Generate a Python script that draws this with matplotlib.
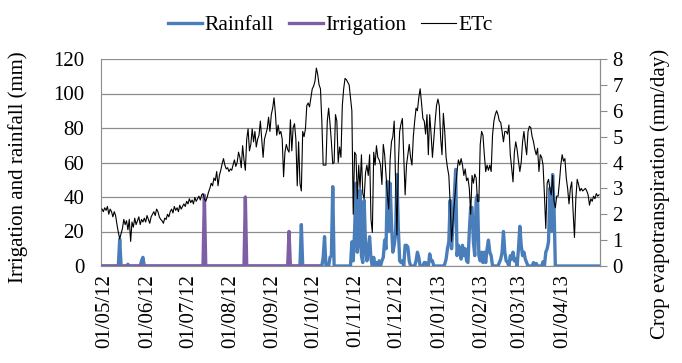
import numpy as np
import matplotlib
matplotlib.use("Agg")
import matplotlib.pyplot as plt
import matplotlib.transforms as mtransforms
import datetime as dt

plt.rcParams['font.family'] = ['Liberation Serif', 'DejaVu Serif']

start_date = dt.date(2012, 5, 1)
tick_labels = ['01/05/12', '01/06/12', '01/07/12', '01/08/12', '01/09/12', '01/10/12',
               '01/11/12', '01/12/12', '01/01/13', '01/02/13', '01/03/13', '01/04/13']

# Daily crop evapotranspiration (mm/day), 01/05/12 .. 30/04/13
etc_may = [2.2, 2.1, 2.25, 2.15, 2.3, 2.0, 2.2, 2.1, 1.9, 2.1, 1.95,
           1.6, 1.3, 1.05, 1.25, 1.45, 1.8, 1.6, 1.75, 1.4, 1.8, 0.95,
           1.7, 1.5, 1.85, 1.6, 1.75, 1.9, 1.6, 1.8, 1.7]
etc_jun = [1.85, 1.7, 1.95, 1.8, 1.65, 1.9, 2.0, 2.1, 1.95, 2.2,
           2.1, 1.9, 1.8, 1.75, 1.65, 1.85, 1.8, 2.0, 1.9, 2.1,
           2.2, 2.05, 2.3, 2.15, 2.25, 2.1, 2.35, 2.2, 2.3, 2.4]
etc_jul = [2.3, 2.5, 2.4, 2.6, 2.45, 2.55, 2.4, 2.65, 2.5, 2.6,
           2.7, 2.55, 2.75, 2.8, 2.6, 2.5, 2.65, 2.85, 3.0, 3.2,
           3.1, 3.4, 3.3, 3.65, 3.1, 3.5, 3.7, 3.95, 4.15, 3.9, 3.75]
etc_aug = [3.8, 3.65, 3.75, 3.7, 3.9, 4.1, 3.85, 4.0, 4.4, 4.2,
           3.8, 4.65, 4.1, 3.7, 4.9, 5.3, 4.45, 4.7, 5.3, 4.8,
           5.2, 4.6, 4.9, 5.05, 5.6, 4.9, 4.2, 4.9, 5.1, 5.3, 5.75]
etc_sep = [5.2, 5.85, 6.1, 6.5, 5.9, 5.05, 5.45, 5.1, 5.2, 4.9,
           3.45, 4.4, 4.7, 4.5, 4.4, 5.65, 4.45, 5.35, 5.5, 4.9,
           3.1, 4.8, 3.2, 2.9, 5.2, 5.0, 5.3, 6.2, 6.3, 6.15]
etc_oct = [6.5, 6.85, 6.95, 7.15, 7.65, 7.4, 7.0, 6.85, 5.6, 3.9,
           3.9, 3.9, 5.6, 6.1, 5.5, 4.8, 3.95, 4.0, 5.85, 5.6,
           4.0, 4.6, 4.2, 6.2, 6.85, 7.25, 7.2, 7.1, 7.0, 6.5, 6.0]
etc_nov = [2.0, 4.4, 4.3, 2.6, 3.9, 3.0, 4.3, 2.8, 2.6, 3.6,
           3.9, 3.5, 4.3, 1.8, 1.3, 4.4, 3.9, 4.65, 4.2, 4.1,
           3.9, 3.15, 4.7, 4.3, 3.5, 2.75, 2.2, 4.1, 4.8, 5.0]
etc_dec = [5.6, 3.3, 1.2, 3.9, 5.2, 5.5, 5.7, 4.2, 2.75, 3.9,
           4.3, 4.7, 4.2, 3.9, 5.0, 5.6, 6.1, 6.0, 6.5, 6.85,
           6.3, 5.7, 5.6, 5.1, 5.85, 4.3, 5.85, 5.1, 4.2, 4.9, 5.6]
etc_jan = [6.2, 6.45, 6.2, 4.95, 4.3, 5.9, 5.2, 4.2, 3.8, 3.5,
           2.4, 0.95, 1.7, 2.4, 3.0, 3.65, 4.1, 3.9, 4.15, 3.9,
           3.5, 3.75, 3.3, 3.4, 3.0, 2.0, 3.5, 3.2, 3.55, 3.4, 2.5]
etc_feb = [2.5, 4.7, 5.2, 5.05, 4.3, 3.65, 3.9, 3.7, 3.9, 3.65,
           5.05, 5.6, 5.85, 6.0, 5.85, 5.6, 5.55, 5.2, 4.8, 5.2,
           5.2, 5.1, 5.45, 4.3, 3.8, 3.25, 4.4, 4.8]
etc_mar = [4.5, 4.05, 3.65, 4.0, 4.8, 5.2, 4.7, 4.3, 5.2, 5.4,
           5.35, 5.0, 4.8, 4.5, 4.3, 4.55, 3.65, 4.3, 4.2, 3.9,
           2.75, 1.45, 3.2, 3.35, 3.0, 2.75, 3.5, 2.5, 2.25, 2.7, 2.7]
etc_apr = [3.25, 3.9, 4.3, 4.05, 4.15, 3.4, 3.0, 2.4, 3.0, 3.25,
           2.1, 1.1, 2.6, 3.35, 3.15, 2.9, 3.0, 2.9, 2.95, 3.0,
           2.9, 2.75, 2.35, 2.6, 2.5, 2.7, 2.6, 2.8, 2.7, 2.75]

# Rainfall events (day number after 01/05/12, mm)
rain_day = [13, 19, 29, 30,
            146, 162, 163, 167, 168, 169,
            183, 184, 185, 186, 187, 188, 189, 190, 191, 192, 193, 194, 195, 196, 197, 199, 201, 203, 205,
            206, 207, 208, 209, 210, 211, 212, 213, 214, 215, 216, 217, 218, 219, 220, 222, 223, 224, 225,
            230, 231, 232, 236, 237, 240, 241, 242,
            251, 252, 253, 254, 255, 256, 257, 258, 259, 260, 261, 262, 263, 264, 265, 266, 267, 268,
            269, 270, 271, 272, 273, 274, 275, 276, 277, 278, 279, 280, 281, 282, 283, 284, 285,
            291, 292, 293, 294, 295, 296, 297, 299, 300, 301, 302, 303, 305, 306, 307, 308, 309, 310,
            311, 316, 318, 323, 325, 326, 327, 328, 329, 330, 331]
rain_mm = [15.5, 1, 3, 5,
           24, 5, 17, 5, 6, 46,
           14, 3, 20, 48, 8, 15, 44, 6, 2, 38, 12, 3, 10, 17, 4, 5, 2, 3, 3,
           5, 15, 10, 49, 20, 48, 25, 8, 12, 18, 53, 22, 3, 2, 3, 12, 12, 11, 3,
           3, 8, 5, 2, 2, 7, 3, 3,
           1, 4, 10, 14, 38, 10, 24, 40, 56, 6, 12, 10, 4, 12, 6, 10, 3, 2,
           20, 34, 34, 14, 6, 38, 41, 6, 3, 8, 2, 8, 2, 10, 15, 8, 6,
           2, 4, 8, 20, 8, 3, 2, 6, 4, 8, 3, 4, 10, 23, 12, 6, 8, 4,
           2, 2, 1.5, 2.5, 8, 10, 14, 45, 20, 53, 35]

# Irrigation events (day number, mm); irrigation series covers first 160 days
irr_day = [75, 105, 137]
irr_mm = [41, 40, 20]
irr_season_days = 160

etc = np.array(etc_may + etc_jun + etc_jul + etc_aug + etc_sep + etc_oct +
               etc_nov + etc_dec + etc_jan + etc_feb + etc_mar + etc_apr)
n = len(etc)
days = np.arange(n)
rain = np.zeros(n)
rain[rain_day] = rain_mm
irr = np.zeros(irr_season_days)
irr[irr_day] = irr_mm

tick_days = [(dt.datetime.strptime(t, '%d/%m/%y').date() - start_date).days for t in tick_labels]

FS = 15
fig = plt.figure(figsize=(6.82, 3.63), dpi=100)
ax = fig.add_axes([101/682, 1-266/363, 499/682, 207/363])

blue = '#4A7EBB'
purple = '#7E5FA6'
grid_c = '#8C8C8C'

l1, = ax.plot(days, rain, color=blue, lw=2.4, label='Rainfall', zorder=3)
l2, = ax.plot(np.arange(irr_season_days), irr, color=purple, lw=2.4, label='Irrigation', zorder=4)
ax.set_xlim(-0.7, n - 0.3)
ax.set_ylim(0, 120)
ax.set_yticks(np.arange(0, 121, 20))
ax.yaxis.grid(True, color=grid_c, lw=0.9)
ax.set_axisbelow(True)
ax.tick_params(axis='y', length=0, labelsize=FS, pad=12)
ax.set_xticks(tick_days)
ax.set_xticklabels(tick_labels, rotation=90, fontsize=FS)
ax.tick_params(axis='x', length=0, pad=6)
shift = mtransforms.ScaledTranslation(3/100, 0, fig.dpi_scale_trans)
for lab in ax.get_xticklabels():
    lab.set_transform(lab.get_transform() + shift)
for s in ['left', 'bottom', 'right']:
    ax.spines[s].set_color(grid_c)
ax.spines['top'].set_visible(False)

ax2 = ax.twinx()
l3, = ax2.plot(days, etc, color='black', lw=0.8, label='ETc')
ax2.set_ylim(0, 8)
ax2.set_yticks(np.arange(0, 9, 1))
ax2.tick_params(axis='y', labelsize=FS, length=5, color=grid_c, pad=4)
for s in ['left', 'bottom', 'top']:
    ax2.spines[s].set_visible(False)
ax2.spines['right'].set_color(grid_c)

fig.text(18/682, 1-167/363, 'Irrigation and rainfall (mm)', rotation=90,
         ha='center', va='center', fontsize=FS)
fig.text(660/682, 1-194/363, 'Crop evapotranspiration (mm/day)', rotation=90,
         ha='center', va='center', fontsize=FS)

fig.legend(handles=[l1, l2, l3], loc='center', bbox_to_anchor=(0.484, 0.931), ncol=3,
           frameon=False, fontsize=FS + 0.5, handlelength=1.6, handletextpad=0.1,
           columnspacing=0.7)

fig.savefig('out.png', dpi=100)
